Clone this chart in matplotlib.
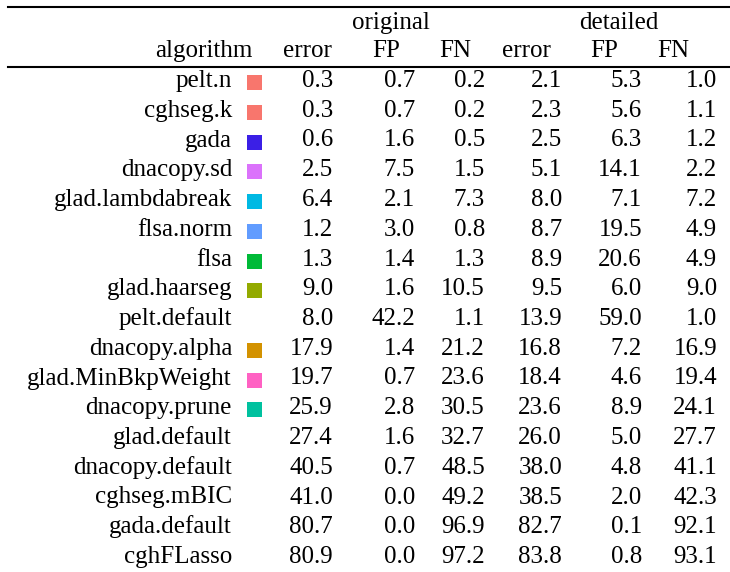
import matplotlib
matplotlib.use('Agg')
import matplotlib.pyplot as plt
from matplotlib.patches import Rectangle

plt.rcParams['font.family'] = ['Liberation Serif', 'DejaVu Serif']
plt.rcParams['font.size'] = 18

algorithms = ['pelt.n', 'cghseg.k', 'gada', 'dnacopy.sd', 'glad.lambdabreak',
              'flsa.norm', 'flsa', 'glad.haarseg', 'pelt.default', 'dnacopy.alpha',
              'glad.MinBkpWeight', 'dnacopy.prune', 'glad.default', 'dnacopy.default',
              'cghseg.mBIC', 'gada.default', 'cghFLasso']
colors = ['#F8766D', '#F8766D', '#3B1FE6', '#DB72FB', '#00B9E3',
          '#619CFF', '#00BA38', '#93AA00', None, '#D39200',
          '#FF61C3', '#00C19F', None, None, None, None, None]

orig_error = [0.3, 0.3, 0.6, 2.5, 6.4, 1.2, 1.3, 9.0, 8.0, 17.9, 19.7, 25.9, 27.4, 40.5, 41.0, 80.7, 80.9]
orig_fp = [0.7, 0.7, 1.6, 7.5, 2.1, 3.0, 1.4, 1.6, 42.2, 1.4, 0.7, 2.8, 1.6, 0.7, 0.0, 0.0, 0.0]
orig_fn = [0.2, 0.2, 0.5, 1.5, 7.3, 0.8, 1.3, 10.5, 1.1, 21.2, 23.6, 30.5, 32.7, 48.5, 49.2, 96.9, 97.2]
det_error = [2.1, 2.3, 2.5, 5.1, 8.0, 8.7, 8.9, 9.5, 13.9, 16.8, 18.4, 23.6, 26.0, 38.0, 38.5, 82.7, 83.8]
det_fp = [5.3, 5.6, 6.3, 14.1, 7.1, 19.5, 20.6, 6.0, 59.0, 7.2, 4.6, 8.9, 5.0, 4.8, 2.0, 0.1, 0.8]
det_fn = [1.0, 1.1, 1.2, 2.2, 7.2, 4.9, 4.9, 9.0, 1.0, 16.9, 19.4, 24.1, 27.7, 41.1, 42.3, 92.1, 93.1]

groups = ['original', 'detailed']
sub_headers = ['error', 'FP', 'FN', 'error', 'FP', 'FN']
columns = [orig_error, orig_fp, orig_fn, det_error, det_fp, det_fn]

fig = plt.figure(figsize=(7.3, 5.72), dpi=100)
ax = fig.add_axes([0, 0, 1, 1])
ax.set_xlim(0, 730)
ax.set_ylim(572, 0)
ax.axis('off')

# rules
ax.plot([8, 730], [7, 7], color='black', lw=1.5)
ax.plot([8, 730], [67, 67], color='black', lw=1.5)

# header
group_x = [391, 619]
for gx, g in zip(group_x, groups):
    ax.text(gx, 29, g, ha='center', va='baseline')
ax.text(253, 57, 'algorithm', ha='right', va='baseline')
head_x = [307, 386, 455, 526, 604, 673]
for hx, h in zip(head_x, sub_headers):
    ax.text(hx, 57, h, ha='center', va='baseline')

# body
col_right = [333, 415, 485, 562, 642, 717]
row0, dy = 87, 29.75
for i, name in enumerate(algorithms):
    y = row0 + i * dy
    ax.text(232, y, name, ha='right', va='baseline')
    if colors[i] is not None:
        ax.add_patch(Rectangle((247, y - 12), 15, 15, facecolor=colors[i], edgecolor='none'))
    for cx, col in zip(col_right, columns):
        ax.text(cx, y, f'{col[i]:.1f}', ha='right', va='baseline')

fig.savefig('out.png', dpi=100)
